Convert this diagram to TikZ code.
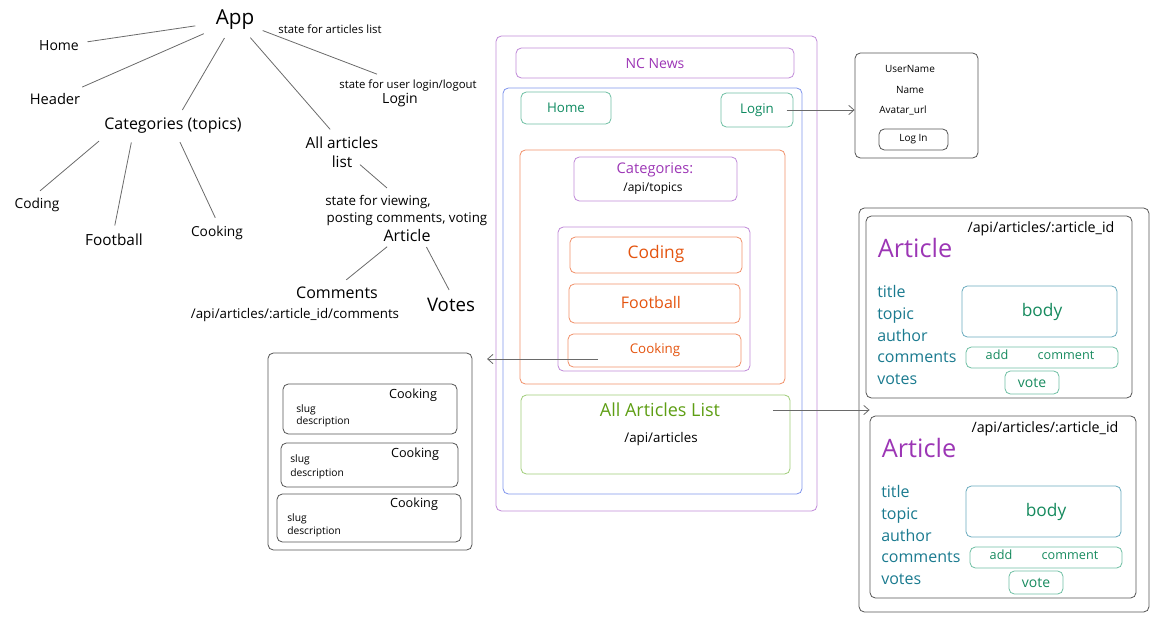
\documentclass[tikz,border=0pt]{standalone}
\usepackage{fontspec}
\setmainfont{Open Sans}
\usetikzlibrary{fit,arrows.meta,calc}
\definecolor{tpurple}{HTML}{9C36B5}
\definecolor{bpurple}{HTML}{C08AD8}
\definecolor{bblue}{HTML}{8095EC}
\definecolor{bgreen}{HTML}{6FBFA3}
\definecolor{tgreen}{HTML}{0E8A60}
\definecolor{borange}{HTML}{F0916A}
\definecolor{torange}{HTML}{E4540F}
\definecolor{bgreenl}{HTML}{9FCC78}
\definecolor{tgreenl}{HTML}{5E9E14}
\definecolor{tteal}{HTML}{1A7A8F}
\definecolor{bbody}{HTML}{6AABBE}
\definecolor{tbody}{HTML}{168A5E}
\definecolor{bgray}{HTML}{555555}
\definecolor{treegray}{HTML}{6A6A6A}
\newcommand\fz[1]{\fontsize{#1}{#1}\selectfont}
\newcommand\artcard[3]{%
\begin{scope}[shift={(#2,#3)}]
\node[box, draw=bgray, fit={(866,216)(1132,398)}] (card#1) {};
\node[font=\fz{10.7}] (api#1) at (1041,229) {/api/articles/:article\_id};
\node[font=\fz{19}, text=tpurple] (artt#1) at (915,248) {Article};
\node[lab] (title#1) at (877,293) {title};
\node[lab] (topic#1) at (877,315) {topic};
\node[lab] (author#1) at (877,337) {author};
\node[lab] (comments#1) at (877,358) {comments};
\node[lab] (votes#1) at (877,380) {votes};
\node[box, draw=bbody, fit={(962,286)(1117,337)}] (body#1) {};
\node[font=\fz{13}, text=tbody] (bodyt#1) at (1042,312) {body};
\node[box, draw=bgreen, fit={(966,347)(1118,368)}] (add#1) {};
\node[font=\fz{9.5}, text=tbody] (addt#1) at (997,355) {add};
\node[font=\fz{9.5}, text=tbody] (comt#1) at (1066,355) {comment};
\node[box, draw=bgreen, fit={(1005,371)(1059,394)}] (vote#1) {};
\node[font=\fz{10.5}, text=tbody] (votet#1) at (1032,383) {vote};
\end{scope}}
\begin{document}
\begin{tikzpicture}[x=0.75pt,y=-0.75pt,
  box/.style={draw, rounded corners=4pt, line width=0.6pt, inner sep=0pt},
  tree/.style={draw=treegray, line width=0.6pt, shorten <=3pt, shorten >=3pt},
  arr/.style={draw=treegray, line width=0.6pt, -{Straight Barb[length=4pt,width=7pt]}},
  lab/.style={anchor=west, inner sep=0pt, font=\fz{12}, text=tteal, text height=1.6ex, text depth=0.4ex},
  sm/.style={anchor=west, inner sep=0pt, font=\fz{7.7}, text height=1.6ex, text depth=0.4ex}]
\path[use as bounding box] (0,0) rectangle (1170,625);

% ---------- tree ----------
\node[font=\fz{15.5}] (app) at (235,20) {App};
\node[font=\fz{8.5}] (stal) at (330,29) {state for articles list};
\node[font=\fz{10.5}] (home) at (59,46) {Home};
\node[font=\fz{11}] (header) at (55,99) {Header};
\node[font=\fz{12}] (cat) at (173,126) {Categories (topics)};
\node[font=\fz{8.5}] (sul) at (408,86) {state for user login/logout};
\node[font=\fz{10.5}] (logintree) at (400,100) {Login};
\node[font=\fz{11.5}] (allart) at (342,143) {All articles};
\node[font=\fz{11.5}] (allartl) at (342,162) {list};
\node[font=\fz{10.3}] (tcoding) at (37,205) {Coding};
\node[font=\fz{11.5}] (tfootball) at (114,240) {Football};
\node[font=\fz{10.3}] (tcooking) at (217,233) {Cooking};
\node[font=\fz{10}] (sv1) at (378,202) {state for viewing,};
\node[font=\fz{10}] (sv2) at (407,219) {posting comments, voting};
\node[font=\fz{12}] (arttree) at (407,235) {Article};
\node[font=\fz{12}] (comm) at (337,293) {Comments};
\node[font=\fz{10}] (commapi) at (295,315) {/api/articles/:article\_id/comments};
\node[font=\fz{14}] (votest) at (451,305) {Votes};

\draw[tree, shorten <=12pt] (app) -- (home);
\draw[tree, shorten <=6pt] (app) -- (header);
\draw[tree] (app) -- (cat);
\draw[tree] (app) -- (allart);
\draw[tree] (app) -- (sul);
\draw[tree] (cat.190) -- (tcoding.north);
\draw[tree] (cat.197) -- (tfootball.north);
\draw[tree] (cat.-67) -- (tcooking.north);
\draw[tree] (allartl.east) -- ($(sv1.north)+(12,0)$);
\draw[tree, shorten <=1pt] (arttree.210) -- (comm.60);
\draw[tree, shorten <=1pt] (arttree.-30) -- (votest.north);

% ---------- page frame ----------
\node[box, draw=bpurple, fit={(496,36)(817,511)}] (frame) {};
\node[box, draw=bpurple, fit={(516,48)(794,78)}] (ncbox) {};
\node[font=\fz{10.5}, text=tpurple] (nct) at (ncbox) {NC News};
\node[box, draw=bblue, fit={(503,88)(802,494)}] (mainb) {};
\node[box, draw=bgreen, fit={(521,92)(611,124)}] (homebox) {};
\node[font=\fz{10}, text=tgreen] (homet) at (homebox) {Home};
\node[box, draw=bgreen, fit={(721,93)(793,127)}] (loginbox) {};
\node[font=\fz{10}, text=tgreen] (logint) at (757,110) {Login};
\node[box, draw=borange, fit={(520,150)(785,384)}] (catsec) {};
\node[box, draw=bpurple, fit={(574,157)(737,201)}] (catbox) {};
\node[font=\fz{11}, text=tpurple] (catt) at (655,170) {Categories:};
\node[font=\fz{9}] (cata) at (653,189) {/api/topics};
\node[box, draw=bpurple, fit={(558,227)(750,371)}] (topicsbox) {};
\node[box, draw=borange, fit={(570,237)(742,273)}] (codingbox) {};
\node[font=\fz{13}, text=torange] (codingt) at (656,254) {Coding};
\node[box, draw=borange, fit={(569,284)(740,323)}] (footballbox) {};
\node[font=\fz{12}, text=torange] (footballt) at (651,302) {Football};
\node[box, draw=borange, fit={(568,334)(741,367)}] (cookingbox) {};
\node[font=\fz{10}, text=torange] (cookingt) at (655,350) {Cooking};
\node[box, draw=bgreenl, fit={(521,395)(790,474)}] (aalbox) {};
\node[font=\fz{13.5}, text=tgreenl] (aalt) at (660,410) {All Articles List};
\node[font=\fz{10}] (aalapi) at (661,439) {/api/articles};

% ---------- user box ----------
\node[box, draw=bgray, fit={(855,53)(978,158)}] (userbox) {};
\node[font=\fz{7.5}] (un) at (910,69) {UserName};
\node[font=\fz{7.5}] (nm) at (910,90) {Name};
\node[font=\fz{7.5}] (av) at (903,110) {Avatar\_url};
\node[box, draw=bgray, fit={(879,129)(948,150)}] (loginbtn) {};
\node[font=\fz{7.5}] (loginbtnt) at (loginbtn) {Log In};

% ---------- topics list ----------
\node[box, draw=bgray, fit={(268,353)(472,550)}] (listbox) {};
\node[box, draw=bgray, fit={(283,384)(457,434)}] (c1) {};
\node[font=\fz{9.5}] (c1t) at (413,395) {Cooking};
\node[sm] (c1s) at (296,408) {slug};
\node[sm] (c1d) at (296,420) {description};
\node[box, draw=bgray, fit={(281,443)(458,487)}] (c2) {};
\node[font=\fz{9.5}] (c2t) at (415,454) {Cooking};
\node[sm] (c2s) at (290,458) {slug};
\node[sm] (c2d) at (290,472) {description};
\node[box, draw=bgray, fit={(277,494)(461,542)}] (c3) {};
\node[font=\fz{9.5}] (c3t) at (414,504) {Cooking};
\node[sm] (c3s) at (287,517) {slug};
\node[sm] (c3d) at (287,530) {description};

% ---------- article panel ----------
\node[box, draw=bgray, fit={(859,208)(1149,612)}] (panel) {};
\artcard{1}{0}{0}
\artcard{2}{4}{200}

% ---------- arrows ----------
\draw[arr, shorten <=6pt] (logint.east) -- (logint.east -| userbox.west);
\coordinate (ck) at (598,359);
\draw[arr, shorten >=11pt] (ck) -- (ck -| listbox.east);
\draw[arr, shorten <=36pt] (aalt.east) -- (aalt.east -| card2.west);
\end{tikzpicture}
\end{document}
